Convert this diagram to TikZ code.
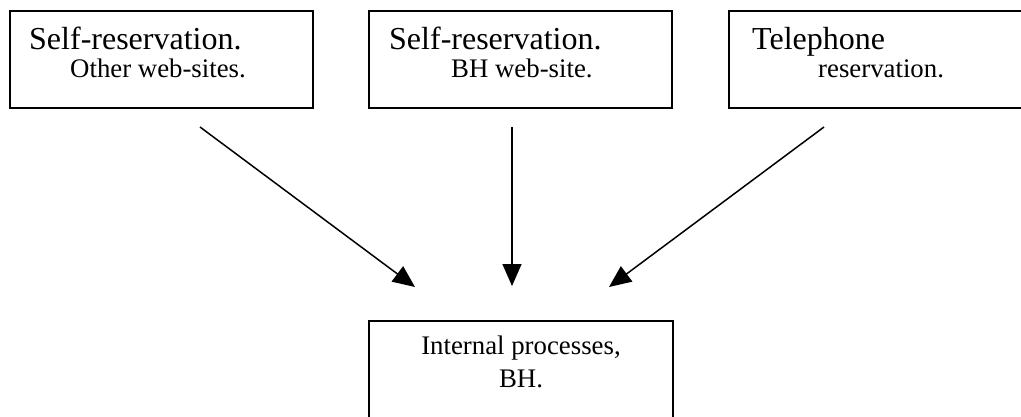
\documentclass[tikz,border=0pt]{standalone}
\usepackage{fontspec}
\setmainfont{Liberation Serif}
\usetikzlibrary{arrows.meta}
\begin{document}
\begin{tikzpicture}[x=1pt,y=-1pt,
  box/.style={draw=black,line width=2pt,minimum width=303pt,minimum height=97pt,inner sep=0pt,anchor=north west},
  big/.style={font=\fontsize{32}{36}\selectfont,anchor=base west,inner sep=0pt},
  small/.style={font=\fontsize{26.8}{31}\selectfont,anchor=base west,inner sep=0pt},
  arr/.style={line width=1.5pt,-{Triangle[length=22pt,width=19pt]}}]
\useasboundingbox (0,0) rectangle (1021,416);
\node[box] (b1) at (9,10) {};
\node[box] (b2) at (368,10) {};
\node[box] (b3) at (728,10) {};
\node[box,minimum width=304pt,minimum height=120pt] (b4) at (368,320) {};
\node[big] (t1a) at (29,49) {Self-reservation.};
\node[small] (t1b) at (70,77) {Other web-sites.};
\node[big] (t2a) at (389,49) {Self-reservation.};
\node[small] (t2b) at (451,77) {BH web-site.};
\node[big] (t3a) at (752,49) {Telephone};
\node[small] (t3b) at (818,77) {reservation.};
\node[small,anchor=base] (t4a) at (521,354) {Internal processes,};
\node[small,anchor=base] (t4b) at (521,387) {BH.};
\coordinate (s1) at (200,127);
\coordinate (e1) at (415,287);
\coordinate (s2) at (512,127);
\coordinate (e2) at (512,286);
\coordinate (s3) at (824,127);
\coordinate (e3) at (609,287);
\draw[arr] (s1) -- (e1);
\draw[arr] (s2) -- (e2);
\draw[arr] (s3) -- (e3);
\end{tikzpicture}
\end{document}
